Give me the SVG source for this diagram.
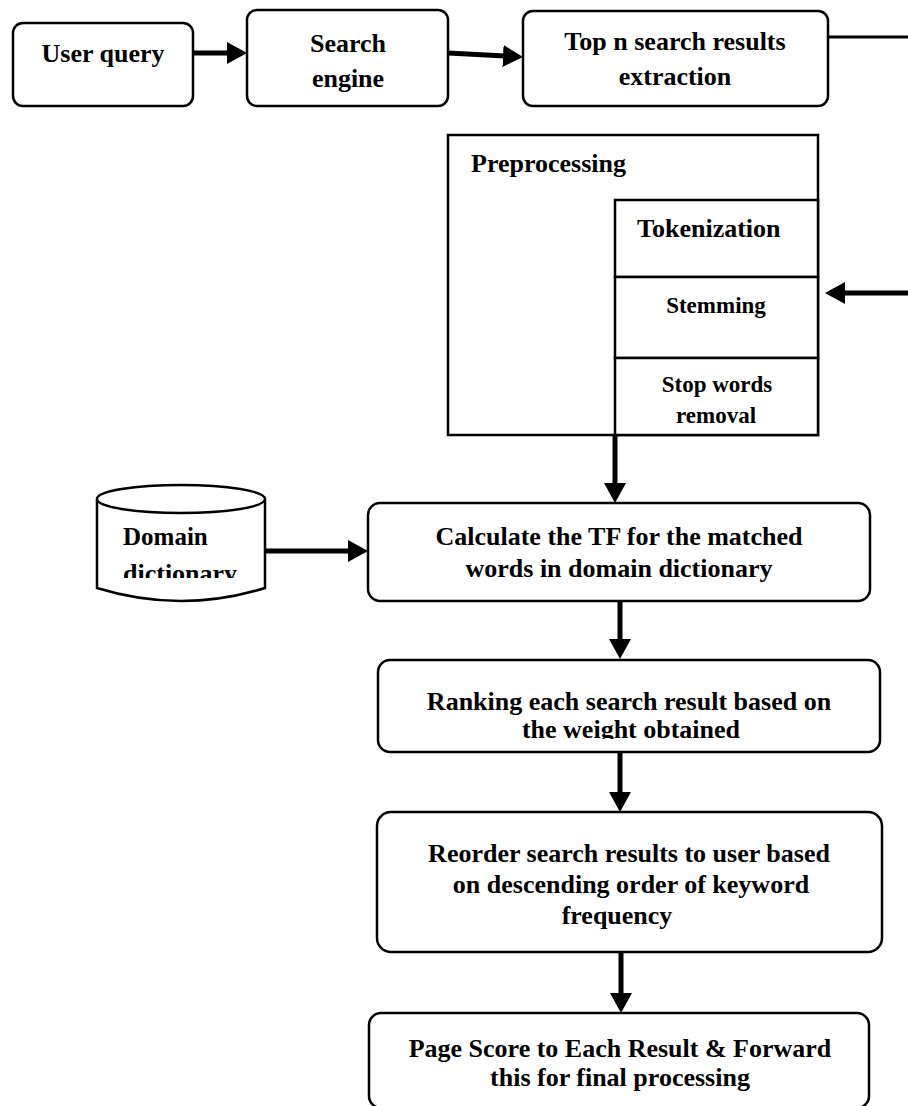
<svg xmlns="http://www.w3.org/2000/svg" width="908" height="1106" viewBox="0 0 908 1106">
<defs>
<style>
.box{fill:#fff;stroke:#000;stroke-width:2.5}
.sq{fill:#fff;stroke:#000;stroke-width:2.5}
.t{font-family:"Liberation Serif","Times New Roman",serif;font-weight:bold;font-size:26px;fill:#000;text-anchor:middle}
.s{font-size:23px}
.st{text-anchor:start}
.conn{stroke:#000;stroke-width:5;fill:none}
.thin{stroke:#000;stroke-width:3;fill:none}
</style>
<marker id="ah" markerUnits="userSpaceOnUse" markerWidth="22" markerHeight="22" refX="10" refY="11" orient="auto">
<path d="M0,0 L20,11 L0,22 z" fill="#000"/>
</marker>
<clipPath id="clipDict"><rect x="90" y="480" width="190" height="98"/></clipPath>
<clipPath id="clipRank"><rect x="370" y="650" width="520" height="89"/></clipPath>
</defs>
<rect width="908" height="1106" fill="#fff"/>

<g id="connectors">
<line class="conn" x1="193" y1="53" x2="237" y2="53" marker-end="url(#ah)"/>
<line class="conn" x1="448" y1="53" x2="513" y2="56.5" marker-end="url(#ah)"/>
<line class="thin" x1="828" y1="37" x2="908" y2="37"/>
<line class="conn" x1="908" y1="293" x2="835" y2="293" marker-end="url(#ah)"/>
<line class="conn" x1="615" y1="435" x2="615" y2="493" marker-end="url(#ah)"/>
<line class="conn" x1="265" y1="551" x2="358" y2="551" marker-end="url(#ah)"/>
<line class="conn" x1="620" y1="601" x2="620" y2="649" marker-end="url(#ah)"/>
<line class="conn" x1="620" y1="752" x2="620" y2="802" marker-end="url(#ah)"/>
<line class="conn" x1="621" y1="952" x2="621" y2="1003" marker-end="url(#ah)"/>
</g>

<g id="user-query">
<rect class="box" x="13" y="23" width="180" height="83" rx="10"/>
<text class="t" x="103" y="62">User query</text>
</g>

<g id="search-engine">
<rect class="box" x="247" y="10" width="201" height="96" rx="10"/>
<text class="t" x="348" y="52">Search</text>
<text class="t" x="348" y="87">engine</text>
</g>

<g id="top-n">
<rect class="box" x="523" y="11" width="305" height="95" rx="10"/>
<text class="t" x="675" y="50">Top n search results</text>
<text class="t" x="675" y="85">extraction</text>
</g>

<g id="preprocessing">
<rect class="sq" x="448" y="135" width="370" height="300"/>
<text class="t st" x="471" y="172">Preprocessing</text>
</g>

<g id="tokenization">
<rect class="sq" x="615" y="200" width="203" height="77"/>
<text class="t st" x="637" y="237">Tokenization</text>
</g>

<g id="stemming">
<rect class="sq" x="615" y="277" width="203" height="81"/>
<text class="t s" x="716" y="313">Stemming</text>
</g>

<g id="stop-words">
<rect class="sq" x="615" y="358" width="203" height="77"/>
<text class="t s" x="717" y="392">Stop words</text>
<text class="t s" x="716" y="423">removal</text>
</g>

<g id="domain-dictionary">
<path class="box" d="M97,499 L97,588 Q139,601 181,601 Q223,601 265,588 L265,499"/>
<ellipse class="box" cx="181" cy="499" rx="84" ry="14"/>
<g clip-path="url(#clipDict)">
<text class="t st" x="123" y="545" style="font-size:25px">Domain</text>
<text class="t st" x="123" y="582">dictionary</text>
</g>
</g>

<g id="calculate-tf">
<rect class="box" x="368" y="503" width="502" height="98" rx="12"/>
<text class="t" x="619" y="545">Calculate the TF for the matched</text>
<text class="t" x="619" y="577">words in domain dictionary</text>
</g>

<g id="ranking">
<rect class="box" x="378" y="660" width="502" height="92" rx="12"/>
<text class="t" x="629" y="710">Ranking each search result based on</text>
<text class="t" x="631" y="738" clip-path="url(#clipRank)">the weight obtained</text>
</g>

<g id="reorder">
<rect class="box" x="377" y="812" width="505" height="140" rx="14"/>
<text class="t" x="629" y="862">Reorder search results to user based</text>
<text class="t" x="631" y="893">on descending order of keyword</text>
<text class="t" x="617" y="924">frequency</text>
</g>

<g id="page-score">
<rect class="box" x="369" y="1013" width="500" height="95" rx="12"/>
<text class="t" x="620" y="1057">Page Score to Each Result &amp; Forward</text>
<text class="t" x="620" y="1086">this for final processing</text>
</g>
</svg>
